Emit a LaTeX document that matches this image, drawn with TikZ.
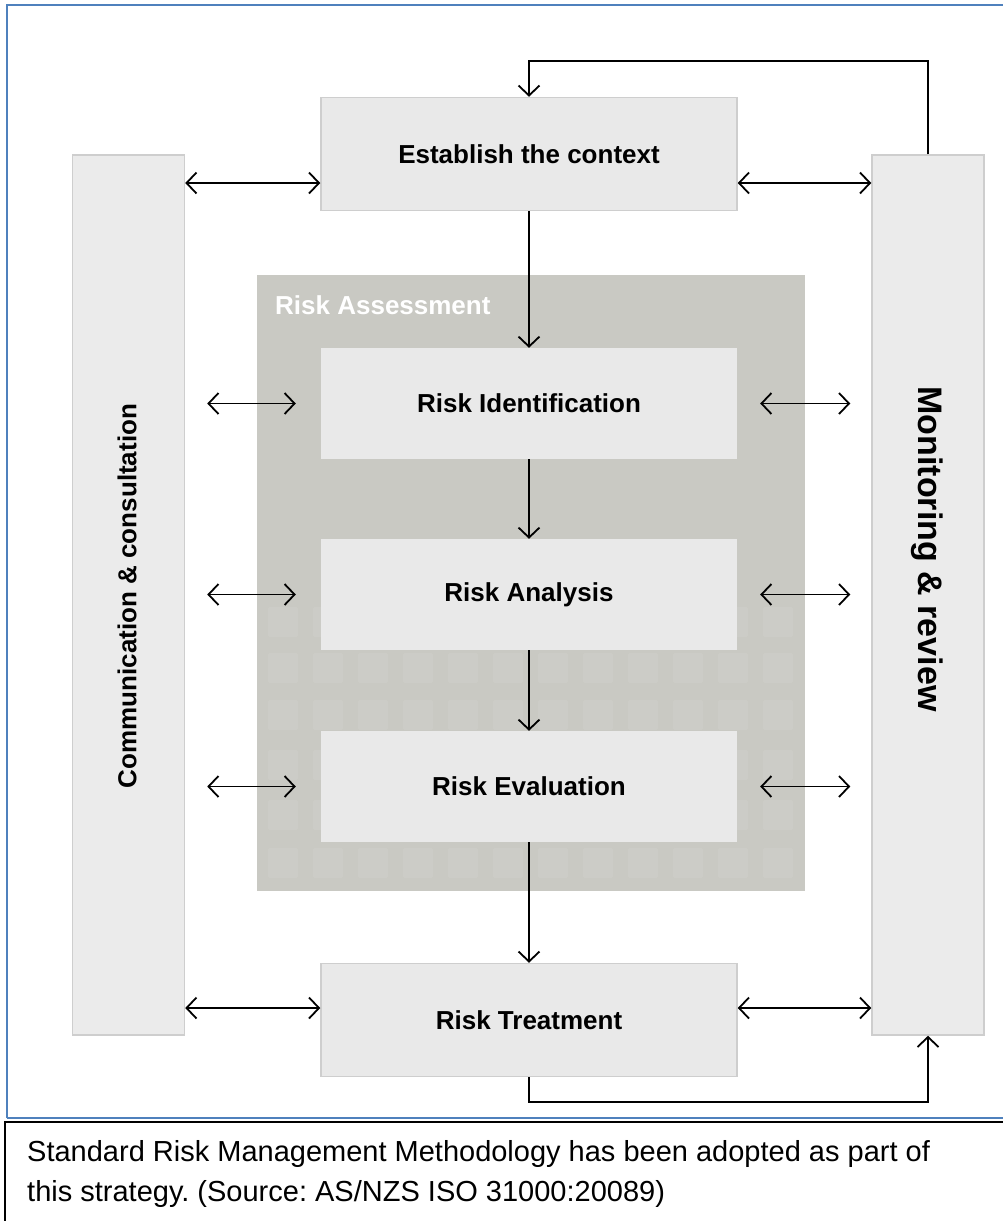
\documentclass[tikz,border=0pt]{standalone}
\usepackage{fontspec}
\setmainfont{Liberation Sans}
\usetikzlibrary{positioning}
\usetikzlibrary{arrows.meta}
\frenchspacing

\definecolor{boxgray}{RGB}{233,233,233}
\definecolor{colgray}{RGB}{235,235,235}
\definecolor{edgegray}{RGB}{206,206,206}
\definecolor{assessgray}{RGB}{201,201,195}
\definecolor{frameblue}{RGB}{79,129,189}

\tikzset{
    stage/.style={fill=boxgray, minimum width=416pt, minimum height=111pt,
        font=\fontsize{26}{30}\bfseries\selectfont, inner sep=0pt},
    outerstage/.style={stage, draw=edgegray, line width=1.5pt, minimum height=113pt},
    column/.style={fill=colgray, draw=edgegray, line width=1.5pt,
        minimum width=112pt, minimum height=880pt, inner sep=0pt},
    flow/.style={line width=1.8pt, -{Straight Barb[length=10pt,width=21pt,line width=1.8pt]}},
    both/.style={line width=1.8pt,
        {Straight Barb[length=10pt,width=21pt,line width=1.8pt]}-{Straight Barb[length=10pt,width=21pt,line width=1.8pt]}},
}

\begin{document}
\begin{tikzpicture}[x=1pt, y=-1pt]
    \useasboundingbox (0,0) rectangle (1003,1221);
    \fill[white] (0,0) rectangle (1003,1221);

    % frame and caption box
    \draw[frameblue, line width=2pt] (7,1118) -- (7,5) -- (1003,5);
    \draw[frameblue, line width=2pt] (7,1118) -- (1003,1118);
    \draw[black, line width=1.5pt] (1003,1122) -- (5,1122) -- (5,1221);
    \node[anchor=north west, align=left, font=\fontsize{29}{40}\selectfont,
        inner sep=0pt] (caption) at (27,1140)
        {Standard Risk Management Methodology has been adopted as part of\\
         this strategy. (Source: AS/NZS ISO 31000:20089)};

    % risk assessment area with faint tiles
    \node[fill=assessgray, minimum width=548pt, minimum height=616pt,
        inner sep=0pt] (assess) at (531,583) {};
    \node[anchor=west, text=white, font=\fontsize{26}{30}\bfseries\selectfont,
        inner sep=0pt] (assesslabel) at (275,305) {Risk Assessment};
    \foreach \ty in {607,653,700,750,800,848}
        \foreach \tx in {268,313,358,403,448,493,538,583,628,673,718,763}
            \fill[white, opacity=0.07, rounded corners=2pt]
                (\tx,\ty) rectangle ++(30,30);

    % side columns
    \node[column] (comm) at (128.5,595) {};
    \node[column] (mon) at (928,595) {};
    \node[rotate=90, font=\fontsize{26}{30}\bfseries\selectfont] (commtext)
        at (127,596) {Communication \& consultation};
    \node[rotate=-90, font=\fontsize{34}{38}\bfseries\selectfont] (montext)
        at (927,549) {Monitoring \& review};

    % process steps
    \node[outerstage] (ctx) at (529,154) {Establish the context};
    \node[stage] (ident) at (529,403.5) {Risk Identification};
    \node[stage] (analysis) at (529,594.5) {Risk Analysis};
    \node[stage] (eval) at (529,786.5) {Risk Evaluation};
    \node[outerstage] (treat) at (529,1020) {Risk Treatment};

    % main flow
    \draw[flow] (ctx) -- (ident);
    \draw[flow] (ident) -- (analysis);
    \draw[flow] (analysis) -- (eval);
    \draw[flow] (eval) -- (treat);

    % feedback loops
    \draw[flow] (mon.north) |- ([yshift=36pt]ctx.north) -- (ctx.north);
    \draw[flow] (treat.south) -- ([yshift=-25pt]treat.south) -| (mon.south);

    % links to the columns
    \coordinate (ctxL) at ([yshift=-29pt]ctx.west);
    \coordinate (ctxR) at ([yshift=-29pt]ctx.east);
    \coordinate (treatL) at ([yshift=12pt]treat.west);
    \coordinate (treatR) at ([yshift=12pt]treat.east);
    \draw[both] (comm.east |- ctxL) -- (ctxL);
    \draw[both] (ctxR) -- (mon.west |- ctxR);
    \draw[both] (comm.east |- treatL) -- (treatL);
    \draw[both] (treatR) -- (mon.west |- treatR);
    \foreach \s in {ident,analysis,eval} {
        \draw[both, shorten <=22pt, shorten >=25pt] (comm.east |- \s) -- (\s.west);
        \draw[both, shorten <=23pt, shorten >=21pt] (\s.east) -- (mon.west |- \s);
    }
\end{tikzpicture}
\end{document}
